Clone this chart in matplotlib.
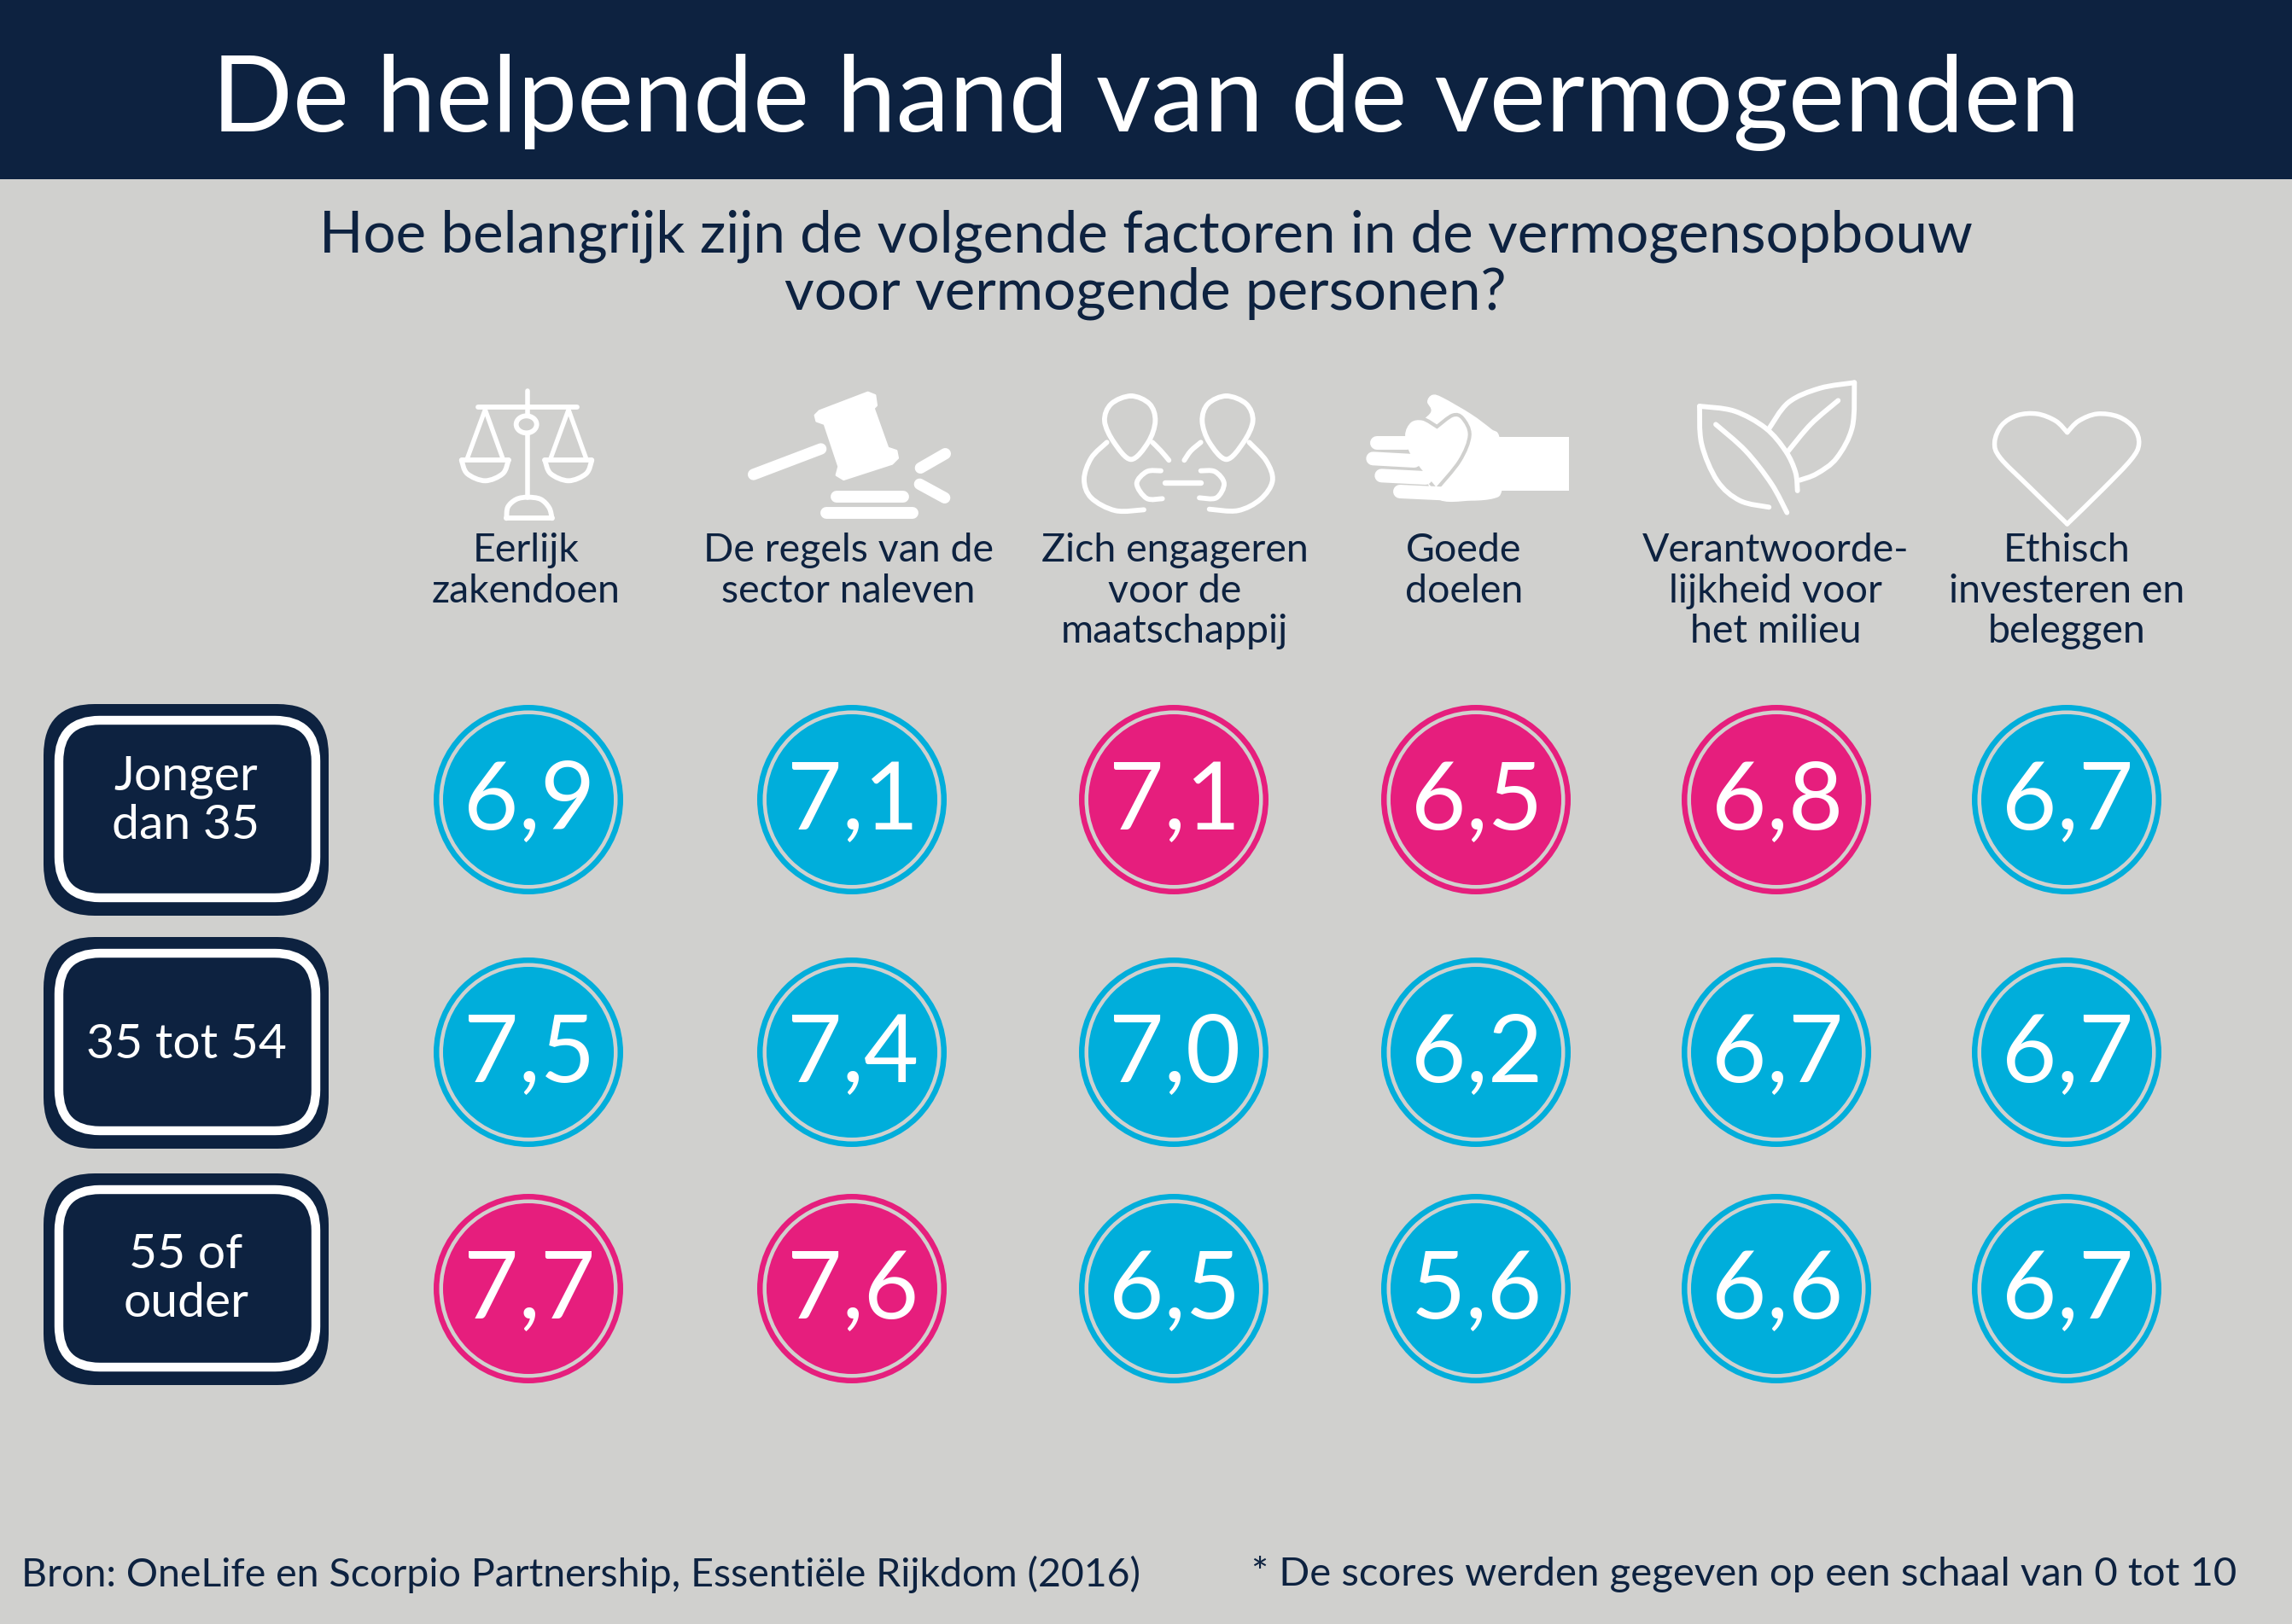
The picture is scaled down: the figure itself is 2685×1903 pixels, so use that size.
#!/usr/bin/env python3
import numpy as np
import matplotlib
matplotlib.use("Agg")
import matplotlib.pyplot as plt
from matplotlib.patches import Circle, Ellipse, FancyBboxPatch, PathPatch, Rectangle, Polygon
from matplotlib.path import Path

# data
title = "De helpende hand van de vermogenden"
subtitle = ["Hoe belangrijk zijn de volgende factoren in de vermogensopbouw",
            "voor vermogende personen?"]
factors = [["Eerlijk", "zakendoen"],
           ["De regels van de", "sector naleven"],
           ["Zich engageren", "voor de", "maatschappij"],
           ["Goede", "doelen"],
           ["Verantwoorde-", "lijkheid voor", "het milieu"],
           ["Ethisch", "investeren en", "beleggen"]]
ages = [["Jonger", "dan 35"], ["35 tot 54"], ["55 of", "ouder"]]
young = [6.9, 7.1, 7.1, 6.5, 6.8, 6.7]
middle = [7.5, 7.4, 7.0, 6.2, 6.7, 6.7]
old = [7.7, 7.6, 6.5, 5.6, 6.6, 6.7]
source = "Bron: OneLife en Scorpio Partnership, Essentiële Rijkdom (2016)"
note = "* De scores werden gegeven op een schaal van 0 tot 10"

# layout, in pixels of the reference
col_x = [619, 998, 1375, 1729, 2081, 2421]
label_x = [616, 994, 1376, 1715, 2080, 2421]
row_y = [937, 1233, 1510]
box_y = [825, 1098, 1375]
box_text_y = [939, 1225, 1499]

NAVY = "#0d2240"
BLUE = "#00aedb"
PINK = "#e61e7d"
BG = "#d0d0ce"
FONT = "Lato"

plt.rcParams["font.family"] = [FONT, "DejaVu Sans"]

fig = plt.figure(figsize=(26.85, 19.03), dpi=100, facecolor=BG)
ax = fig.add_axes([0, 0, 1, 1])
ax.set_xlim(0, 2685)
ax.set_ylim(1903, 0)
ax.axis("off")


def at(ox, oy):
    return lambda pts: [(ox + x / 3, oy + y / 3) for x, y in pts]


def smooth(pts, closed=False):
    # catmull-rom through the points, as bezier segments
    p = np.array(pts, dtype=float)
    if closed:
        p = np.vstack([p[-1], p, p[0], p[1]])
    else:
        p = np.vstack([p[0], p, p[-1]])
    verts = [p[1]]
    codes = [Path.MOVETO]
    for i in range(1, len(p) - 2):
        verts += [p[i] + (p[i + 1] - p[i - 1]) / 6, p[i + 1] - (p[i + 2] - p[i]) / 6, p[i + 1]]
        codes += [Path.CURVE4] * 3
    return Path(verts, codes)


def stroke(pts, lw=4.2, closed=False):
    ax.add_patch(PathPatch(smooth(pts, closed), fc="none", ec="white", lw=lw,
                           capstyle="round", joinstyle="round"))


def line(pts, lw=4.2):
    ax.plot(*zip(*pts), color="white", lw=lw, solid_capstyle="round", solid_joinstyle="round")


def draw_scales():
    m = at(530, 450)
    line(m([(263, 25), (263, 110)]), 4)
    line(m([(90, 82), (438, 82)]), 4.2)
    ax.add_patch(Ellipse(m([(260, 142)])[0], 24, 20, fc="none", ec="white", lw=4.2))
    line(m([(263, 175), (263, 400)]), 4)
    stroke(m([(190, 472), (195, 432), (225, 405), (265, 398), (310, 405), (340, 435), (350, 472)]), 4.2)
    line(m([(190, 472), (350, 472)]), 4.2)
    for cx, a, b in [(115, 32, 197), (408, 325, 490)]:
        line(m([(cx - 63, 262), (cx, 90), (cx + 62, 262)]), 3.8)
        line(m([(a, 268), (b, 268)]), 4.2)
        stroke(m([(a, 268), (a + 20, 315), (cx, 340), (b - 20, 315), (b, 268)]), 4.2)


def draw_gavel():
    m = at(860, 450)
    head = [(300, 95), (470, 30), (495, 40), (500, 75), (490, 85), (540, 225), (570, 235),
            (575, 260), (555, 280), (385, 335), (360, 320), (368, 290), (318, 140), (290, 130), (285, 110)]
    ax.add_patch(Polygon(m(head), fc="white", ec="white", lw=2, joinstyle="round"))
    line(m([(68, 318), (305, 228)]), 9.6)
    line(m([(655, 295), (742, 245)]), 9.6)
    line(m([(652, 352), (740, 400)]), 9.6)
    line(m([(360, 397), (595, 397)]), 10)
    line(m([(325, 452), (628, 452)]), 10)


def draw_people():
    m = at(1250, 450)
    left_head = [(225, 42), (290, 70), (310, 130), (285, 205), (225, 265), (165, 205), (132, 130), (155, 70)]
    stroke(m(left_head), closed=True)
    stroke(m([(785 - x, y) for x, y in left_head]), closed=True)
    stroke(m([(140, 205), (85, 260), (60, 335), (85, 400), (170, 445), (270, 442)]))
    stroke(m([(300, 205), (330, 235), (358, 268)]))
    stroke(m([(330, 305), (280, 308), (245, 350), (280, 402), (335, 403)]))
    stroke(m([(640, 205), (700, 270), (722, 340), (680, 405), (600, 445), (500, 440)]))
    stroke(m([(470, 205), (435, 235), (412, 268)]))
    stroke(m([(470, 305), (520, 308), (552, 350), (525, 400), (465, 400)]))
    line(m([(345, 348), (472, 348)]), 4.6)


def draw_hand():
    m = at(1590, 450)
    ax.add_patch(Polygon(m([(490, 185), (745, 185), (745, 375), (490, 375)]), fc="white", ec="none"))
    for pts in [[(70, 208), (175, 208)], [(55, 262), (200, 270)], [(85, 322), (240, 330)], [(150, 378), (300, 385)]]:
        line(m(pts), 11.5)
    palm = [(248, 62), (265, 40), (300, 50), (400, 108), (470, 160), (497, 185), (510, 300),
            (505, 378), (480, 400), (400, 408), (280, 400), (230, 280), (200, 170), (260, 100)]
    ax.add_patch(PathPatch(smooth(m(palm), True), fc="white", ec="white", lw=1))
    right = smooth(m([(277, 372), (360, 270), (395, 180), (370, 120), (335, 110), (280, 150)]))
    left = smooth(m([(280, 150), (230, 122), (185, 130), (162, 180), (185, 255), (277, 372)]))
    heart = Path(np.vstack([right.vertices, left.vertices[1:]]), list(right.codes) + list(left.codes[1:]))
    ax.add_patch(PathPatch(heart, fc="white", ec=BG, lw=3, joinstyle="miter"))


def draw_leaves():
    m = at(1975, 440)
    stroke(m([(48, 108), (170, 125), (280, 185), (350, 265), (385, 340), (392, 405)]))
    stroke(m([(48, 108), (55, 240), (110, 370), (190, 440), (292, 463)]))
    stroke(m([(105, 172), (210, 265), (300, 380), (355, 482)]))
    stroke(m([(290, 190), (360, 95), (470, 45), (592, 25)]))
    stroke(m([(592, 25), (585, 180), (530, 290), (460, 345), (400, 368)]))
    stroke(m([(535, 88), (440, 170), (360, 265)]))


def draw_heart():
    m = at(2320, 470)
    stroke(m([(305, 432), (170, 300), (70, 200), (50, 145), (75, 85), (130, 50), (200, 45), (265, 70), (305, 110)]), 3.9)
    stroke(m([(305, 110), (345, 70), (410, 45), (485, 55), (540, 95), (557, 150), (530, 205), (430, 310), (305, 432)]), 3.9)


# header
ax.add_patch(Rectangle((0, 0), 2685, 210, fc=NAVY, ec="none"))
ax.text(1342, 120, title, color="white", fontsize=90, ha="center", va="center")
for y, s in zip([277, 344], subtitle):
    ax.text(1342, y, s, color=NAVY, fontsize=48.5, ha="center", va="center")

# icons and column labels
for draw in [draw_scales, draw_gavel, draw_people, draw_hand, draw_leaves, draw_heart]:
    draw()
for x, lines in zip(label_x, factors):
    for i, s in enumerate(lines):
        ax.text(x, 645 + 47.5 * i, s, color=NAVY, fontsize=33.5, ha="center", va="center")

# age boxes
for y, yt, lines in zip(box_y, box_text_y, ages):
    ax.add_patch(FancyBboxPatch((51, y), 334, 248, boxstyle="round,pad=0,rounding_size=60",
                                fc=NAVY, ec="none", zorder=2))
    ax.add_patch(FancyBboxPatch((69, y + 19), 301, 208, boxstyle="round,pad=0,rounding_size=48",
                                fc="none", ec="white", lw=7.5, zorder=3))
    for i, s in enumerate(lines):
        off = (i - (len(lines) - 1) / 2) * 57
        ax.text(218, yt + off, s, color="white", fontsize=41, ha="center", va="center", zorder=4)

# score circles
rows = [young, middle, old]
scores = np.array(rows)
for j, x in enumerate(col_x):
    col = scores[:, j]
    for i, y in enumerate(row_y):
        # the highest score in a column is pink, unless all rows tie
        c = PINK if col[i] == col.max() and col.min() != col.max() else BLUE
        ax.add_patch(Circle((x, y), 111, fc=c, ec="none", zorder=2))
        ax.add_patch(Circle((x, y), 104.5, fc=BG, ec="none", zorder=3))
        ax.add_patch(Circle((x, y), 100, fc=c, ec="none", zorder=4))
        ax.text(x + 1, y + 4, f"{col[i]:.1f}".replace(".", ","), color="white", fontsize=80,
                ha="center", va="center", zorder=5)

# footer
ax.text(25, 1845, source, color=NAVY, fontsize=33.5, ha="left", va="center")
ax.text(2620, 1845, note, color=NAVY, fontsize=34, ha="right", va="center")

fig.savefig("out.png", dpi=100, facecolor=BG)
